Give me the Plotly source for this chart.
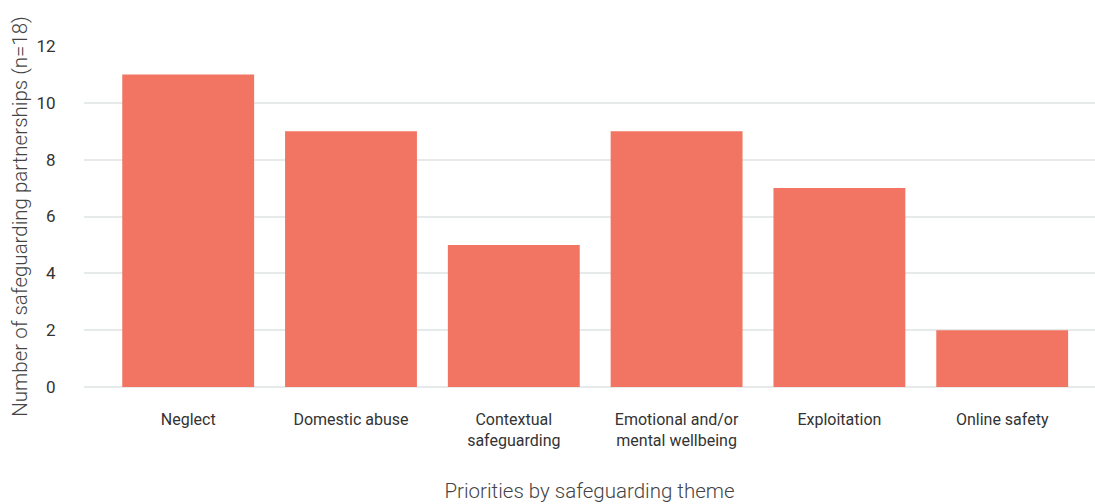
import plotly.graph_objects as go

categories = ["Neglect", "Domestic abuse", "Contextual<br>safeguarding",
              "Emotional and/or<br>mental wellbeing", "Exploitation", "Online safety"]
values = [11, 9, 5, 9, 7, 2]
y_ticks = [0, 2, 4, 6, 8, 10, 12]

fig = go.Figure(go.Bar(
    x=list(range(len(categories))), y=values,
    marker=dict(color="#F17562", line=dict(width=0)),
    width=0.81,
))

fig.update_layout(
    width=1095, height=504,
    margin=dict(l=84, r=0, t=46, b=117),
    plot_bgcolor="white", paper_bgcolor="white",
    font=dict(family="Roboto", color="#444444"),
    showlegend=False,
)
fig.update_xaxes(
    tickmode="array", tickvals=list(range(len(categories))), ticktext=categories,
    range=[-0.64, 5.57], showgrid=False, zeroline=False, showline=False,
    ticks="outside", ticklen=18, tickcolor="rgba(0,0,0,0)",
    tickfont=dict(size=16, color="#333333", family="Roboto"),
    title=dict(text="Priorities by safeguarding theme",
               font=dict(size=20.5, color="#444444", weight=300), standoff=34),
)
fig.update_yaxes(
    range=[0, 12], tickvals=y_ticks,
    showgrid=True, gridcolor="#E6EAEA", gridwidth=1.5,
    zeroline=True, zerolinecolor="#E6EAEA", zerolinewidth=1.5,
    showline=False, layer="above traces",
    ticks="outside", ticklen=24, tickcolor="rgba(0,0,0,0)",
    tickfont=dict(size=17, color="#333333", family="Roboto"),
    title=dict(text="Number of safeguarding partnerships (n=18)",
               font=dict(size=20.5, color="#444444", weight=300), standoff=3),
)

fig.write_html("out.html")
